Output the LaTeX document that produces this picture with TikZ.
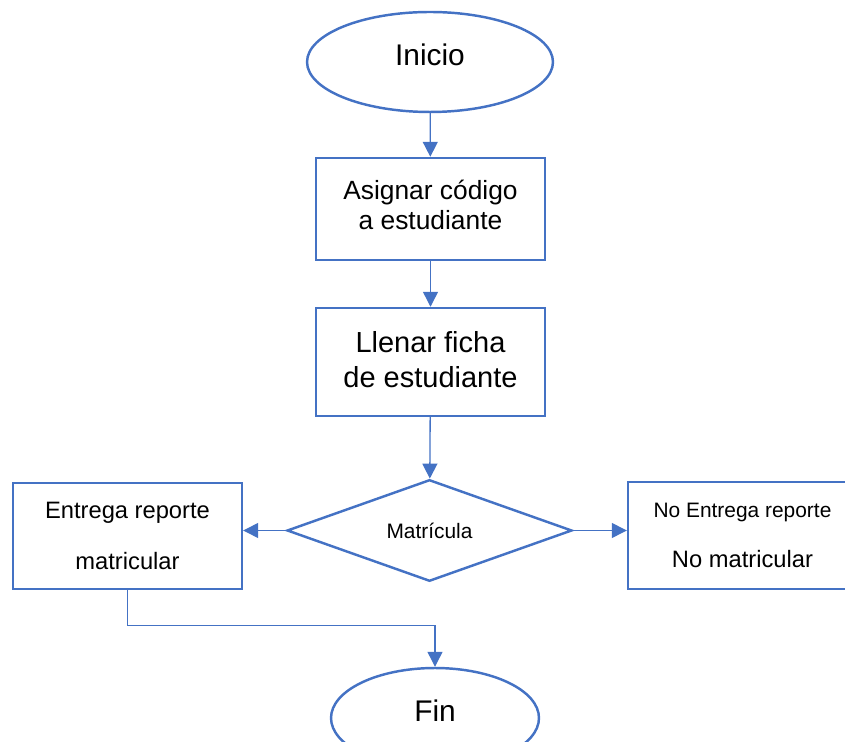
\documentclass[tikz,border=0pt]{standalone}
\usepackage{fontspec}
\setmainfont{Liberation Sans}
\usepackage{tikz}
\usetikzlibrary{
  arrows.meta,
  positioning,
  shapes.geometric
}
\definecolor{flujoazul}{RGB}{68,114,196}

\begin{document}
\begin{tikzpicture}[x=0.02cm, y=-0.02cm,
  terminal/.style={ellipse, draw=flujoazul, line width=1.4pt, text depth=8pt},
  proceso/.style={rectangle, draw=flujoazul, line width=1.4pt, align=center,
    minimum width=4.58cm},
  decision/.style={diamond, draw=flujoazul, line width=1.4pt, inner sep=0pt,
    minimum width=5.7cm, minimum height=1.9cm,
    font=\fontsize{11.9}{14}\selectfont},
  flecha/.style={draw=flujoazul, line width=0.75pt,
    -{Triangle[length=8.5pt, width=8.5pt]}}]
  % page frame, the right box and Fin are cut by it
  \useasboundingbox (0,0) rectangle (845,742);
  \clip (0,0) rectangle (845,742);
  % Nodes
  \node[terminal, minimum width=4.92cm, minimum height=2cm,
    font=\fontsize{17}{20}\selectfont] (inicio) at (430,62) {Inicio};
  \node[proceso, minimum height=2.04cm, text depth=5pt,
    font=\fontsize{15}{17.4}\selectfont] (codigo) at (430.5,209)
    {Asignar código\\a estudiante};
  \node[proceso, minimum height=2.16cm, text depth=3pt,
    font=\fontsize{16.5}{19.9}\selectfont] (ficha) at (430.5,362)
    {Llenar ficha\\de estudiante};
  \node[decision] (matricula) at (429.5,530.5) {Matrícula};
  \node[proceso, minimum height=2.12cm,
    font=\fontsize{13.5}{29.5}\selectfont] (entrega) at (127.5,536)
    {Entrega reporte\\matricular};
  \node[proceso, minimum height=2.14cm,
    font=\fontsize{13.5}{28.4}\selectfont] (noentrega) at (742.5,535.5)
    {{\fontsize{11.9}{28.4}\selectfont No Entrega reporte}\\No matricular};
  \node[terminal, minimum width=4.16cm, minimum height=2cm,
    font=\fontsize{17}{20}\selectfont] (fin) at (435,718) {Fin};
  % Connectors
  \draw[flecha] (inicio) -- (codigo);
  \draw[flecha] (codigo) -- (ficha);
  \draw[flecha] (ficha) -- (matricula);
  \draw[flecha] (matricula.west) -- (matricula.west -| entrega.east);
  \draw[flecha] (matricula.east) -- (matricula.east -| noentrega.west);
  \draw[flecha] (entrega.south) -- ++(0,35) -| (fin.north);
\end{tikzpicture}
\end{document}
